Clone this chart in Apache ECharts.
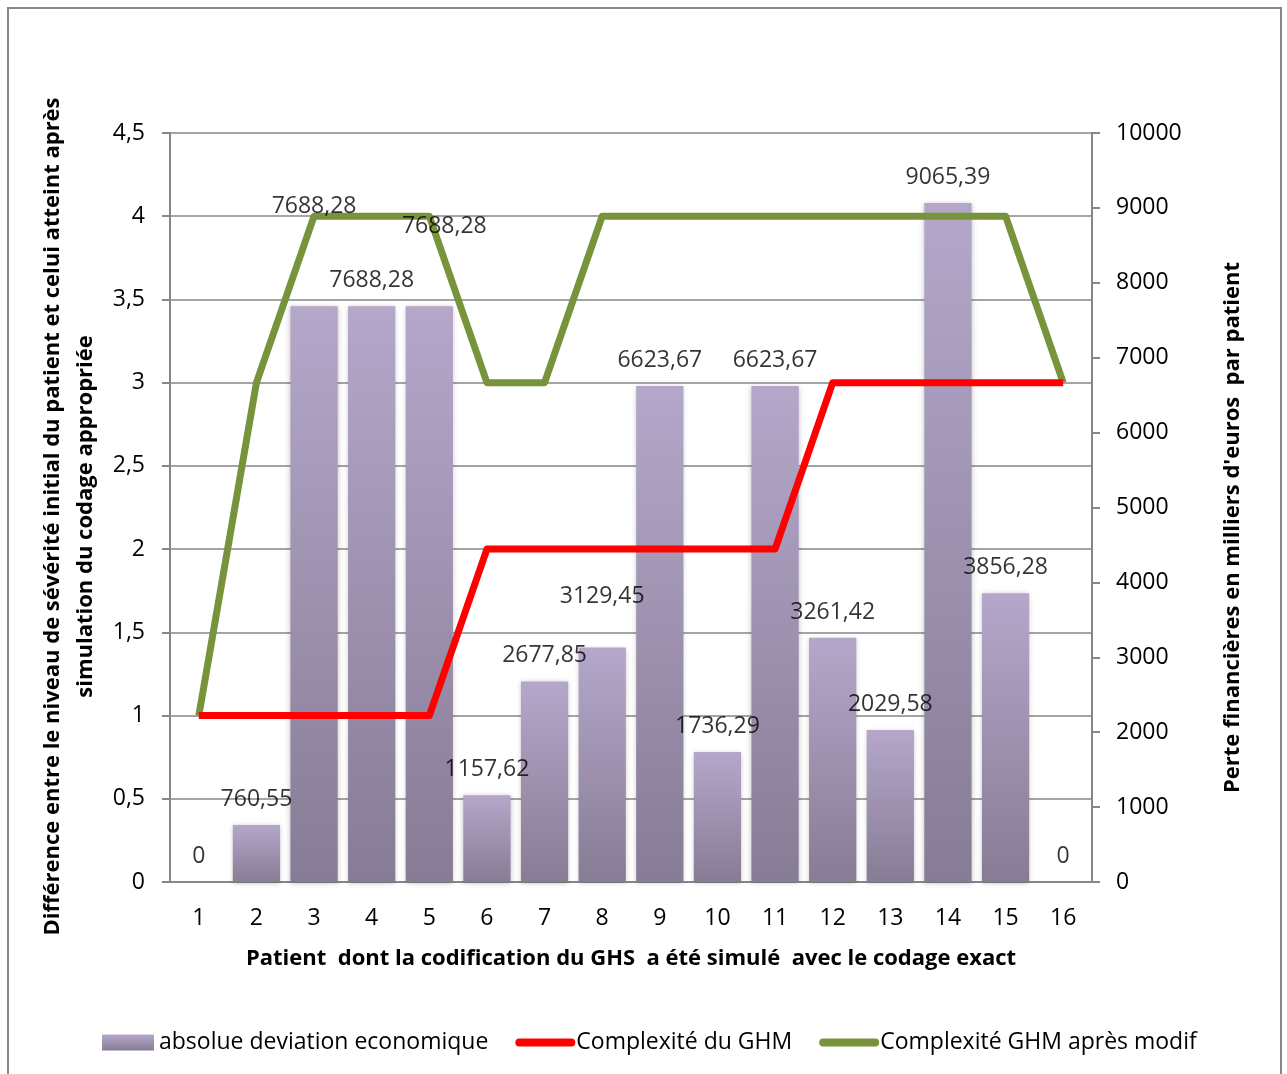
<!DOCTYPE html>
<html>
<head>
<meta charset="utf-8">
<script src="https://cdn.jsdelivr.net/npm/echarts@6/dist/echarts.min.js"></script>
<style>
  html, body { margin: 0; padding: 0; background: #fff; }
  #chart { width: 1287px; height: 1074px; }
</style>
</head>
<body>
<div id="chart"></div>
<script>
// patients
const categories = ['1', '2', '3', '4', '5', '6', '7', '8', '9', '10', '11', '12', '13', '14', '15', '16']
// perte financière (axe droit)
const deviation = [0, 760.55, 7688.28, 7688.28, 7688.28, 1157.62, 2677.85, 3129.45, 6623.67, 1736.29, 6623.67, 3261.42, 2029.58, 9065.39, 3856.28, 0]
// complexité (axe gauche)
const complexiteGHM = [1, 1, 1, 1, 1, 2, 2, 2, 2, 2, 2, 3, 3, 3, 3, 3]
const complexiteApres = [1, 3, 4, 4, 4, 3, 3, 4, 4, 4, 4, 4, 4, 4, 4, 3]
// label nudges as in the original sheet
const labelShift = [[0, 0], [0, 0], [0, -74], [0, 0], [15, -54], [0, 0], [0, 0], [0, -26], [0, 0], [0, 0], [0, 0], [0, 0], [0, 0], [0, 0], [0, 0], [0, 0]]

const FONT = 'Open Sans'
const grey = '#868686'
const comma = v => String(v).replace('.', ',')

const chart = echarts.init(document.getElementById('chart'))

const swatchBar = 'path://M0,0 H52 V16 H0 Z'
const swatchLine = 'path://M4,0 H56 A4,4 0 0 1 56,8 H4 A4,4 0 0 1 4,0 Z'

chart.setOption({
  animation: false,
  textStyle: { fontFamily: FONT, color: '#000' },
  graphic: [{
    type: 'rect',
    shape: { x: 8, y: 8, width: 1273, height: 1100 },
    style: { fill: 'none', stroke: grey, lineWidth: 2 },
    silent: true,
    z: -1
  }],
  grid: { left: 170, right: 195, top: 133, bottom: 192, outerBoundsMode: 'none' },
  legend: {
    left: 97,
    top: 1026,
    itemWidth: 60,
    itemHeight: 16,
    itemGap: 27,
    symbolKeepAspect: true,
    textStyle: { fontFamily: FONT, fontSize: 23, color: '#000', padding: [0, 0, 0, -4] },
    data: [
      { name: 'absolue deviation economique', icon: swatchBar },
      { name: 'Complexité du GHM', icon: swatchLine },
      { name: 'Complexité GHM après modif', icon: swatchLine }
    ]
  },
  xAxis: {
    type: 'category',
    data: categories,
    name: 'Patient  dont la codification du GHS  a été simulé  avec le codage exact',
    nameLocation: 'middle',
    nameGap: 66,
    nameTextStyle: { fontFamily: FONT, fontSize: 22, fontWeight: 'bold', color: '#000' },
    axisLine: { lineStyle: { color: grey, width: 2 } },
    axisTick: { show: false },
    axisLabel: { fontSize: 23, color: '#000', margin: 25 }
  },
  yAxis: [{
    type: 'value',
    min: 0,
    max: 4.5,
    interval: 0.5,
    name: 'Différence entre le niveau de sévérité initial du patient et celui atteint après\nsimulation du codage appropriée',
    nameLocation: 'middle',
    nameGap: 64,
    nameTextStyle: { fontFamily: FONT, fontSize: 22, fontWeight: 'bold', color: '#000', lineHeight: 33, padding: [0, 18, 0, 0] },
    axisLine: { show: true, lineStyle: { color: grey, width: 2 } },
    axisTick: { show: true, length: 8, lineStyle: { color: grey, width: 2 } },
    axisLabel: { fontSize: 23, color: '#000', margin: 25, formatter: comma },
    splitLine: { lineStyle: { color: grey, width: 1.5 } }
  }, {
    type: 'value',
    min: 0,
    max: 10000,
    interval: 1000,
    position: 'right',
    name: "Perte financières en milliers d'euros  par patient",
    nameLocation: 'middle',
    nameGap: 130,
    nameRotate: 90,
    nameTextStyle: { fontFamily: FONT, fontSize: 22, fontWeight: 'bold', color: '#000', padding: [0, 40, 0, 0] },
    axisLine: { show: true, lineStyle: { color: grey, width: 2 } },
    axisTick: { show: true, length: 8, lineStyle: { color: grey, width: 2 } },
    axisLabel: { fontSize: 23, color: '#000', margin: 24, formatter: v => String(v) },
    splitLine: { show: false }
  }],
  series: [{
    name: 'absolue deviation economique',
    type: 'bar',
    yAxisIndex: 1,
    barWidth: '82%',
    itemStyle: {
      color: new echarts.graphic.LinearGradient(0, 0, 0, 1, [
        { offset: 0, color: '#b4a7ca' },
        { offset: 1, color: '#877c95' }
      ]),
      shadowBlur: 5,
      shadowColor: 'rgba(0,0,0,0.25)',
      shadowOffsetY: 1
    },
    data: deviation,
    z: 1
  }, {
    name: 'Complexité du GHM',
    type: 'line',
    yAxisIndex: 0,
    data: complexiteGHM,
    showSymbol: false,
    symbol: 'none',
    color: '#ff0000',
    lineStyle: { color: '#ff0000', width: 7, join: 'round' },
    z: 3
  }, {
    name: 'Complexité GHM après modif',
    type: 'line',
    yAxisIndex: 0,
    data: complexiteApres,
    showSymbol: false,
    symbol: 'none',
    color: '#77933c',
    lineStyle: { color: '#77933c', width: 7, join: 'round' },
    z: 2
  }, {
    // value labels drawn above the lines
    name: 'labels',
    type: 'scatter',
    yAxisIndex: 1,
    symbolSize: 0,
    silent: true,
    zlevel: 1,
    z: 5,
    label: {
      show: true,
      position: 'top',
      distance: 14,
      fontSize: 23,
      color: '#000',
      formatter: p => comma(p.value)
    },
    data: deviation.map((v, i) => ({
      value: v,
      label: { offset: labelShift[i] }
    }))
  }]
})
</script>
</body>
</html>
